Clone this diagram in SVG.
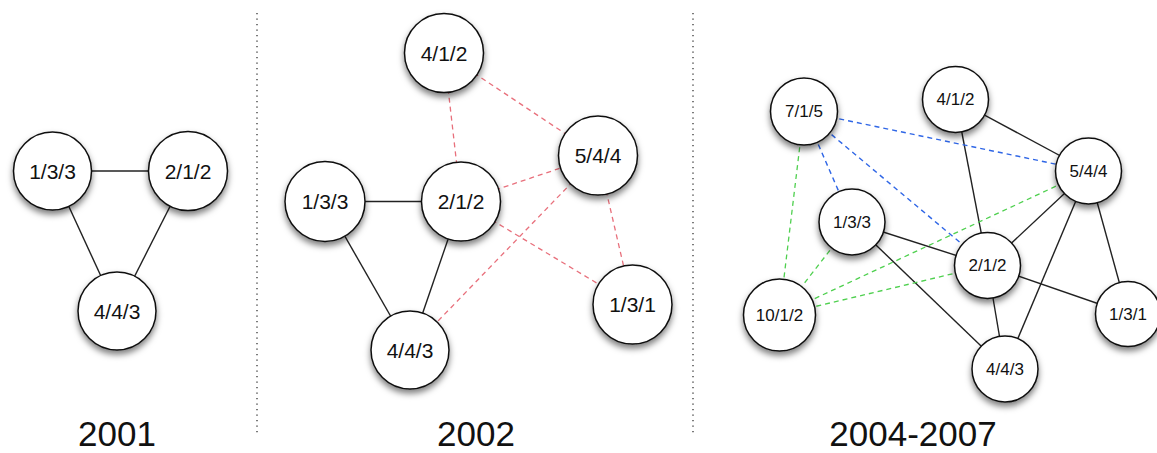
<svg xmlns="http://www.w3.org/2000/svg" width="1157" height="453" viewBox="0 0 1157 453">
<style>
.n circle{fill:#fff;stroke:#111;stroke-width:1.5;filter:url(#sh)}
.n text{font-family:"Liberation Sans",Arial,Helvetica,sans-serif;fill:#111;text-anchor:middle;dominant-baseline:central}
.big text{font-size:21px}
.sm text{font-size:17px}
.e{stroke:#222;stroke-width:1.4;fill:none}
.r{stroke:#e8707c;stroke-width:1.3;stroke-dasharray:5 4;fill:none}
.b{stroke:#2f66e6;stroke-width:1.4;stroke-dasharray:5 4;fill:none}
.g{stroke:#4fd04f;stroke-width:1.3;stroke-dasharray:5 4;fill:none}
.sep{stroke:#333;stroke-width:1.3;stroke-dasharray:1.3 4.2}
.title{font-family:"Liberation Sans",Arial,Helvetica,sans-serif;font-size:35px;fill:#111;text-anchor:middle}
</style>
<defs>
<filter id="sh" x="-30%" y="-30%" width="160%" height="170%">
<feDropShadow dx="0" dy="4" stdDeviation="3" flood-color="#000" flood-opacity="0.5"/>
</filter>
</defs>
<rect width="1157" height="453" fill="#fff"/>
<g id="separators">
<line class="sep" x1="257" y1="13" x2="257" y2="433"/>
<line class="sep" x1="693" y1="13" x2="693" y2="433"/>
</g>
<g id="connectors">
<!-- 2001 -->
<line class="e" x1="52.5" y1="171" x2="188" y2="171"/>
<line class="e" x1="52.5" y1="171" x2="117" y2="311"/>
<line class="e" x1="188" y1="171" x2="117" y2="311"/>
<!-- 2002 -->
<line class="e" x1="325" y1="201.5" x2="461" y2="201.5"/>
<line class="e" x1="325" y1="201.5" x2="410" y2="350"/>
<line class="e" x1="461" y1="201.5" x2="410" y2="350"/>
<line class="r" x1="444" y1="53" x2="461" y2="201.5"/>
<line class="r" x1="444" y1="53" x2="598" y2="155.5"/>
<line class="r" x1="461" y1="201.5" x2="598" y2="155.5"/>
<line class="r" x1="461" y1="201.5" x2="632.5" y2="304.5"/>
<line class="r" x1="598" y1="155.5" x2="632.5" y2="304.5"/>
<line class="r" x1="598" y1="155.5" x2="410" y2="350"/>
<!-- 2004-2007 -->
<line class="e" x1="955.5" y1="99.5" x2="1088.5" y2="171"/>
<line class="e" x1="955.5" y1="99.5" x2="987.5" y2="265.5"/>
<line class="e" x1="852" y1="222" x2="987.5" y2="265.5"/>
<line class="e" x1="852" y1="222" x2="1005" y2="369"/>
<line class="e" x1="1088.5" y1="171" x2="987.5" y2="265.5"/>
<line class="e" x1="1088.5" y1="171" x2="1005" y2="369"/>
<line class="e" x1="1088.5" y1="171" x2="1128" y2="314"/>
<line class="e" x1="987.5" y1="265.5" x2="1005" y2="369"/>
<line class="e" x1="987.5" y1="265.5" x2="1128" y2="314"/>
<line class="b" x1="804" y1="111.5" x2="1088.5" y2="171"/>
<line class="b" x1="804" y1="111.5" x2="987.5" y2="265.5"/>
<line class="b" x1="804" y1="111.5" x2="852" y2="222"/>
<line class="g" x1="804" y1="111.5" x2="779.5" y2="315"/>
<line class="g" x1="852" y1="222" x2="779.5" y2="315"/>
<line class="g" x1="1088.5" y1="171" x2="779.5" y2="315"/>
<line class="g" x1="987.5" y1="265.5" x2="779.5" y2="315"/>
</g>
<!-- 2001 nodes -->
<g id="a_133" class="n big"><circle cx="52.5" cy="171" r="39"/><text x="52.5" y="171">1/3/3</text></g>
<g id="a_212" class="n big"><circle cx="188" cy="171" r="39.5"/><text x="188" y="171">2/1/2</text></g>
<g id="a_443" class="n big"><circle cx="117" cy="311" r="39"/><text x="117" y="311">4/4/3</text></g>
<!-- 2002 nodes -->
<g id="b_412" class="n big"><circle cx="444" cy="53" r="39.5"/><text x="444" y="53">4/1/2</text></g>
<g id="b_544" class="n big"><circle cx="598" cy="155.5" r="39.5"/><text x="598" y="155.5">5/4/4</text></g>
<g id="b_133" class="n big"><circle cx="325" cy="201.5" r="40"/><text x="325" y="201.5">1/3/3</text></g>
<g id="b_212" class="n big"><circle cx="461" cy="201.5" r="39.5"/><text x="461" y="201.5">2/1/2</text></g>
<g id="b_443" class="n big"><circle cx="410" cy="350" r="39"/><text x="410" y="350">4/4/3</text></g>
<g id="b_131" class="n big"><circle cx="632.5" cy="304.5" r="39.5"/><text x="632.5" y="304.5">1/3/1</text></g>
<!-- 2004-2007 nodes -->
<g id="c_715" class="n sm"><circle cx="804" cy="111.5" r="33.5"/><text x="804" y="111.5">7/1/5</text></g>
<g id="c_412" class="n sm"><circle cx="955.5" cy="99.5" r="33"/><text x="955.5" y="99.5">4/1/2</text></g>
<g id="c_544" class="n sm"><circle cx="1088.5" cy="171" r="33"/><text x="1088.5" y="171">5/4/4</text></g>
<g id="c_133" class="n sm"><circle cx="852" cy="222" r="33"/><text x="852" y="222">1/3/3</text></g>
<g id="c_212" class="n sm"><circle cx="987.5" cy="265.5" r="33"/><text x="987.5" y="265.5">2/1/2</text></g>
<g id="c_1012" class="n sm"><circle cx="779.5" cy="315" r="36"/><text x="779.5" y="315">10/1/2</text></g>
<g id="c_131" class="n sm"><circle cx="1128" cy="314" r="32.5"/><text x="1128" y="314">1/3/1</text></g>
<g id="c_443" class="n sm"><circle cx="1005" cy="369" r="33"/><text x="1005" y="369">4/4/3</text></g>
<g id="titles">
<text class="title" x="117" y="446">2001</text>
<text class="title" x="476" y="446">2002</text>
<text class="title" x="913" y="446">2004-2007</text>
</g>
</svg>
